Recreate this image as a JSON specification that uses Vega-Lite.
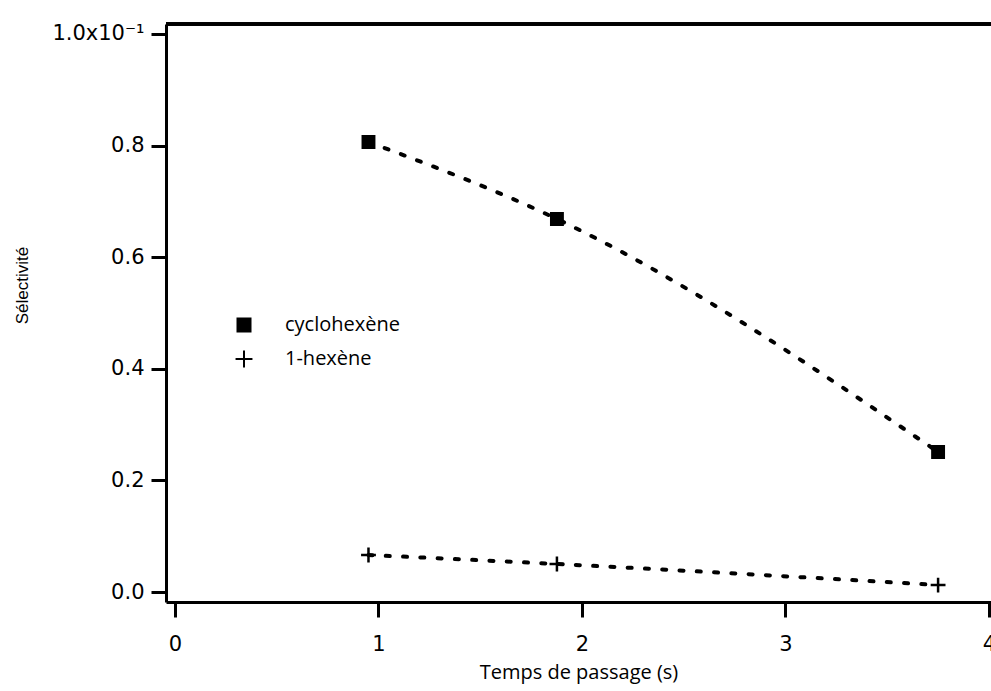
{
  "$schema": "https://vega.github.io/schema/vega-lite/v6.json",
  "width": 825,
  "height": 578,
  "autosize": {"type": "none"},
  "padding": {"left": 166, "top": 24, "right": 0, "bottom": 89},
  "background": "white",
  "config": {
    "view": {"stroke": null},
    "axis": {
      "grid": false,
      "domainColor": "black",
      "domainWidth": 3,
      "tickColor": "black",
      "tickWidth": 3,
      "tickSize": 15,
      "labelColor": "black",
      "labelFont": "DejaVu Sans",
      "labelFontSize": 21,
      "titleColor": "black",
      "titleFontWeight": "normal"
    }
  },
  "data": {
    "values": [
      {"t": 0.951, "sel": 0.08065, "series": "cyclohexène"},
      {"t": 1.877, "sel": 0.06685, "series": "cyclohexène"},
      {"t": 3.75, "sel": 0.02509, "series": "cyclohexène"},
      {"t": 0.951, "sel": 0.00663, "series": "1-hexène"},
      {"t": 1.877, "sel": 0.00502, "series": "1-hexène"},
      {"t": 3.75, "sel": 0.00125, "series": "1-hexène"}
    ]
  },
  "layer": [
    {
      "mark": {"type": "line", "color": "black", "strokeWidth": 4, "strokeDash": [4, 13.3], "strokeCap": "round", "interpolate": "monotone"},
      "encoding": {
        "x": {
          "field": "t", "type": "quantitative",
          "scale": {"domain": [-0.044, 4.01], "nice": false, "zero": false},
          "axis": {
            "values": [0, 1, 2, 3, 4],
            "format": "d",
            "labelFlush": false,
            "labelOverlap": false,
            "labelBound": false,
            "labelBaseline": "alphabetic",
            "labelPadding": 33,
            "title": "Temps de passage (s)",
            "titleFont": "Open Sans",
            "titleFontSize": 20,
            "titleBaseline": "alphabetic",
            "titleY": 76
          }
        },
        "y": {
          "field": "sel", "type": "quantitative",
          "scale": {"domain": [-0.00179, 0.10179], "nice": false, "zero": false},
          "axis": {
            "values": [0, 0.02, 0.04, 0.06, 0.08, 0.1],
            "labelExpr": "datum.value > 0.099 ? '1.0x10⁻¹' : format(datum.value * 10, '.1f')",
            "labelPadding": 7,
            "labelOverlap": false,
            "labelBound": false,
            "labelFlush": false,
            "title": "Sélectivité",
            "titleFont": "Liberation Sans",
            "titleFontSize": 17,
            "titleAngle": -90,
            "titleAlign": "center",
            "titleBaseline": "middle",
            "titleX": -144,
            "titleY": 261
          }
        },
        "detail": {"field": "series", "type": "nominal"}
      }
    },
    {
      "mark": {"type": "point", "strokeWidth": 2.5, "size": 130, "opacity": 1},
      "encoding": {
        "x": {"field": "t", "type": "quantitative"},
        "y": {"field": "sel", "type": "quantitative"},
        "fill": {
          "field": "series", "type": "nominal",
          "scale": {"domain": ["cyclohexène", "1-hexène"], "range": ["black", "black"]},
          "legend": null
        },
        "stroke": {
          "field": "series", "type": "nominal",
          "scale": {"domain": ["cyclohexène", "1-hexène"], "range": ["black", "black"]},
          "legend": null
        },
        "shape": {
          "field": "series", "type": "nominal",
          "scale": {"domain": ["cyclohexène", "1-hexène"], "range": ["square", "M-1.3,0H1.3M0,-1.3V1.3"]},
          "legend": {
            "title": null,
            "orient": "none",
            "legendX": 68,
            "legendY": 291,
            "symbolSize": 169,
            "symbolFillColor": "black",
            "symbolStrokeColor": "black",
            "symbolStrokeWidth": 2,
            "symbolOpacity": 1,
            "labelFont": "Open Sans",
            "labelFontSize": 20,
            "labelColor": "black",
            "labelOffset": 31,
            "rowPadding": 10
          }
        }
      }
    },
    {
      "mark": {"type": "rule", "color": "black", "strokeWidth": 3},
      "encoding": {"y": {"datum": 0.10179}}
    }
  ]
}
